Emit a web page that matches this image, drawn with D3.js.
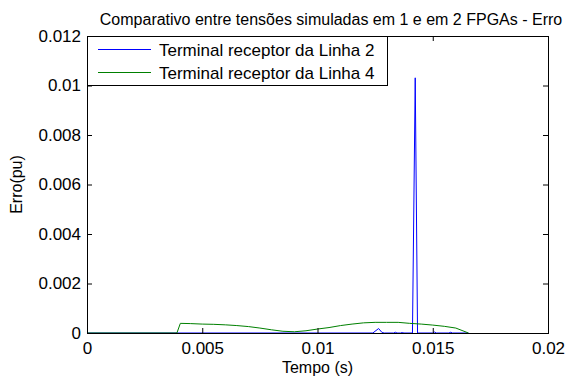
<!DOCTYPE html>
<html>
<head>
<meta charset="utf-8">
<script src="https://cdn.jsdelivr.net/npm/d3@7"></script>
<style>
  html, body { margin: 0; padding: 0; background: #fff; }
  svg { display: block; }
  text { font-family: "Liberation Sans", Arial, sans-serif; fill: #000; }
</style>
</head>
<body>
<svg id="chart" width="573" height="376"></svg>
<script>
// Error between voltages simulated on one and on two FPGAs
const titleText = "Comparativo entre tensões simuladas em 1 e em 2 FPGAs - Erro";
const xLabel = "Tempo (s)";
const yLabel = "Erro(pu)";
const seriesNames = ["Terminal receptor da Linha 2", "Terminal receptor da Linha 4"];
const seriesColors = ["#0000ff", "#008000"];

const xTicks = [0, 0.005, 0.01, 0.015, 0.02];
const xTickLabels = ["0", "0.005", "0.01", "0.015", "0.02"];
const yTicks = [0, 0.002, 0.004, 0.006, 0.008, 0.01, 0.012];
const yTickLabels = ["0", "0.002", "0.004", "0.006", "0.008", "0.01", "0.012"];

// Linha 2 receiving terminal
const timeL2 = [0, 0.0124, 0.01265, 0.0128, 0.0129, 0.0133, 0.01338, 0.01345, 0.0136, 0.01368, 0.01375,
                0.01412, 0.01424, 0.01434, 0.0150, 0.01508, 0.01515, 0.0157, 0.01578, 0.01585, 0.01655];
const errL2 = [0, 0, 0.00018, 0.00002, 0, 0, 0.00003, 0, 0, 0.00002, 0,
               0, 0.01031, 0, 0, 0.00004, 0, 0, 0.00003, 0, 0];

// Linha 4 receiving terminal
const timeL4 = [0, 0.0039, 0.00405, 0.0045, 0.0050, 0.0055, 0.0060, 0.0065, 0.0070, 0.0075, 0.0080,
                0.0085, 0.0090, 0.0095, 0.0100, 0.0105, 0.0110, 0.0115, 0.0120, 0.0125, 0.0130,
                0.0135, 0.0140, 0.0145, 0.0150, 0.0155, 0.0160, 0.01655];
const errL4 = [0, 0, 0.00039, 0.00038, 0.00036, 0.00035, 0.00033, 0.00030, 0.00026, 0.00020, 0.00013,
               0.00007, 0.00005, 0.00009, 0.00016, 0.00022, 0.00030, 0.00036, 0.00041, 0.00043, 0.00043,
               0.00043, 0.00039, 0.00036, 0.00032, 0.00027, 0.00020, 0];

const svg = d3.select("#chart");
const margin = { left: 87, top: 36, right: 25, bottom: 43 };
const W = 573, H = 376;
const iw = W - margin.left - margin.right;
const ih = H - margin.top - margin.bottom;

const x = d3.scaleLinear().domain([0, 0.02]).range([margin.left, margin.left + iw]);
const y = d3.scaleLinear().domain([0, 0.012]).range([margin.top + ih, margin.top]);

const titleSize = 16;
const labelSize = 17;

// series lines
const line = d3.line().x(d => x(d[0])).y(d => y(d[1]));
const series = [
  d3.zip(timeL2, errL2),
  d3.zip(timeL4, errL4)
];
svg.append("g").selectAll("path").data(series).join("path")
  .attr("d", line)
  .attr("fill", "none")
  .attr("stroke", (d, i) => seriesColors[i])
  .attr("stroke-width", 1);

// axes box with inward ticks on all four sides
const tickLen = 5;
const bottomAxis = d3.axisBottom(x).tickValues(xTicks).tickFormat((d, i) => xTickLabels[i]).tickSizeInner(-tickLen).tickSizeOuter(0).tickPadding(9);
const leftAxis = d3.axisLeft(y).tickValues(yTicks).tickFormat((d, i) => yTickLabels[i]).tickSizeInner(-tickLen).tickSizeOuter(0).tickPadding(6);
const topAxis = d3.axisTop(x).tickValues(xTicks).tickFormat("").tickSizeInner(-tickLen).tickSizeOuter(0);
const rightAxis = d3.axisRight(y).tickValues(yTicks).tickFormat("").tickSizeInner(-tickLen).tickSizeOuter(0);

function styleAxis(g) {
  g.selectAll(".domain").remove();
  g.selectAll("line").attr("stroke", "#000");
  g.selectAll("text").attr("font-size", labelSize).attr("font-family", "Liberation Sans, Arial, sans-serif").attr("fill", "#000");
}
svg.append("g").attr("transform", `translate(0,${margin.top + ih})`).call(bottomAxis).call(styleAxis);
svg.append("g").attr("transform", `translate(${margin.left},0)`).call(leftAxis).call(styleAxis);
svg.append("g").attr("transform", `translate(0,${margin.top})`).call(topAxis).call(styleAxis);
svg.append("g").attr("transform", `translate(${margin.left + iw},0)`).call(rightAxis).call(styleAxis);

svg.append("rect")
  .attr("x", margin.left + 0.5).attr("y", margin.top + 0.5)
  .attr("width", iw).attr("height", ih)
  .attr("fill", "none").attr("stroke", "#000").attr("stroke-width", 1);

// title and axis labels
svg.append("text")
  .attr("x", 331).attr("y", 25)
  .attr("text-anchor", "middle").attr("font-size", titleSize)
  .text(titleText);
svg.append("text")
  .attr("x", margin.left + iw / 2).attr("y", 373)
  .attr("text-anchor", "middle").attr("font-size", titleSize)
  .text(xLabel);
svg.append("text")
  .attr("transform", `translate(22,${margin.top + ih / 2}) rotate(-90)`)
  .attr("text-anchor", "middle").attr("font-size", titleSize)
  .text(yLabel);

// legend
const legend = svg.append("g").attr("transform", `translate(${margin.left},${margin.top})`);
legend.append("rect")
  .attr("x", 0.5).attr("y", 0.5).attr("width", 300).attr("height", 49)
  .attr("fill", "#fff").attr("stroke", "#000").attr("stroke-width", 1);
const rows = legend.selectAll("g.row").data(seriesNames).join("g")
  .attr("class", "row")
  .attr("transform", (d, i) => `translate(0,${13.5 + i * 23})`);
rows.append("line")
  .attr("x1", 11).attr("x2", 64).attr("y1", 0).attr("y2", 0)
  .attr("stroke", (d, i) => seriesColors[i]).attr("stroke-width", 1);
rows.append("text")
  .attr("x", 72).attr("y", 6).attr("font-size", labelSize)
  .text(d => d);
</script>
</body>
</html>
